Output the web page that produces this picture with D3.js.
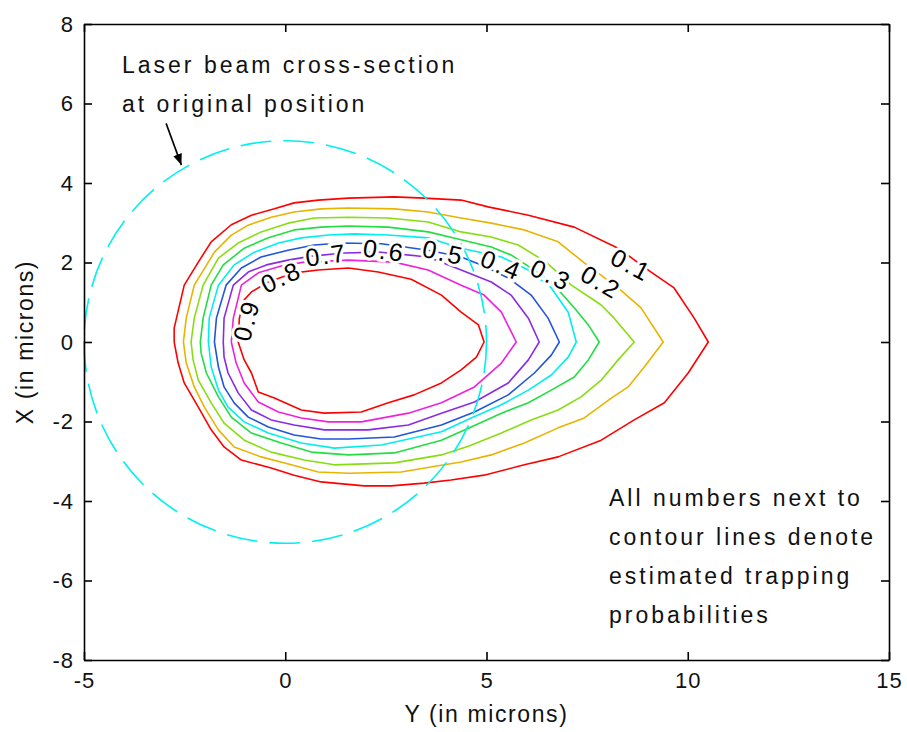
<!DOCTYPE html>
<meta charset="utf-8" />
<style>
  body { margin: 0; background: #fff; }
  svg { font-family: 'Liberation Sans', Arial, sans-serif; }
  .axis path, .axis line { stroke: #000; stroke-width: 1.6px; }
  .tick text { font-size: 22px; fill: #111; letter-spacing: 1px; }
  .note { font-size: 23px; fill: #111; letter-spacing: 3px; }
  .albl { font-size: 23px; fill: #111; letter-spacing: 1.6px; }
  .clab { font-size: 25px; fill: #000; letter-spacing: 2.5px; }
</style>
<svg width="907" height="732"></svg>
<script src="https://d3js.org/d3.v7.min.js"></script>
<script>
  // contour levels and their colours
  var levels = [0.1, 0.2, 0.3, 0.4, 0.5, 0.6, 0.7, 0.8, 0.9];
  var colors = ['#ff0000', '#e8b400', '#88dd11', '#22dd44', '#00eeee',
    '#2255dd', '#8a2be2', '#ee22dd', '#ff0000'];

  // contour outlines, [Y, X] in microns
  var c1 = [[-2.76,0],[-2.76,0.35],[-2.51,1.43],[-2.16,2.01],[-1.84,2.52],[-1.34,2.95],[-0.84,3.19],[-0.27,3.35],[0.22,3.50],[0.82,3.57],[1.57,3.62],[2.71,3.65],[3.45,3.62],[4.37,3.57],[5.04,3.40],[6.04,3.19],[7.18,2.89],[8.27,2.36],[9.09,1.76],[9.66,1.36],[10.16,0.60],[10.51,0],[10.01,-0.78],[9.42,-1.53],[8.67,-1.96],[7.85,-2.47],[6.78,-2.89],[5.94,-3.09],[4.94,-3.35],[4.12,-3.47],[3.45,-3.55],[2.63,-3.62],[1.96,-3.62],[0.89,-3.52],[0.22,-3.35],[-0.35,-3.17],[-1.09,-2.97],[-1.52,-2.64],[-1.84,-2.21],[-2.16,-1.64],[-2.51,-1.03],[-2.66,-0.53]];
  var c2 = [[-2.53,0],[-2.46,0.60],[-2.26,1.43],[-1.76,2.26],[-1.34,2.69],[-0.92,2.94],[-0.35,3.14],[0.22,3.27],[0.89,3.35],[1.57,3.37],[2.71,3.35],[3.55,3.27],[4.37,3.12],[5.12,2.99],[5.94,2.82],[6.78,2.52],[7.43,1.99],[8.27,1.36],[8.84,0.86],[9.39,0],[8.92,-0.63],[8.52,-1.13],[8.10,-1.41],[7.43,-1.91],[6.78,-2.16],[5.94,-2.54],[5.12,-2.84],[4.37,-3.02],[3.95,-3.09],[2.88,-3.27],[1.57,-3.30],[0.82,-3.27],[0.15,-3.09],[-0.60,-2.89],[-1.27,-2.64],[-1.66,-2.21],[-2.01,-1.64],[-2.26,-1.13],[-2.46,-0.53]];
  var c3 = [[-2.34,0],[-2.26,0.60],[-2.04,1.43],[-1.66,2.11],[-1.17,2.49],[-0.60,2.77],[0.07,2.99],[0.72,3.12],[1.57,3.14],[2.56,3.12],[3.55,3.02],[4.37,2.77],[5.12,2.64],[5.79,2.44],[6.48,2.01],[7.11,1.43],[7.85,0.93],[8.17,0.60],[8.67,0],[8.27,-0.45],[7.85,-0.96],[7.35,-1.38],[6.78,-1.71],[6.11,-1.96],[5.37,-2.29],[4.55,-2.62],[3.88,-2.84],[2.71,-3.04],[1.22,-3.09],[0.47,-2.97],[-0.35,-2.77],[-1.02,-2.47],[-1.52,-2.04],[-1.84,-1.53],[-2.16,-0.96],[-2.29,-0.45]];
  var c4 = [[-2.11,0],[-2.04,0.60],[-1.84,1.43],[-1.54,1.94],[-1.02,2.36],[-0.42,2.62],[0.22,2.82],[0.89,2.89],[1.57,2.92],[2.56,2.89],[3.55,2.77],[4.37,2.57],[5.12,2.39],[5.61,2.19],[6.11,1.86],[6.61,1.51],[7.18,0.86],[7.53,0.43],[7.80,0],[7.53,-0.45],[7.18,-0.88],[6.61,-1.21],[6.04,-1.53],[5.37,-1.79],[4.62,-2.14],[3.88,-2.47],[2.71,-2.79],[1.57,-2.84],[0.65,-2.77],[-0.10,-2.54],[-0.84,-2.29],[-1.34,-1.89],[-1.66,-1.38],[-1.96,-0.78],[-2.09,-0.28]];
  var c5 = [[-1.91,0],[-1.89,0.60],[-1.66,1.43],[-1.27,1.94],[-0.77,2.26],[-0.17,2.49],[0.40,2.62],[1.07,2.69],[1.71,2.72],[2.56,2.69],[3.55,2.62],[4.37,2.36],[5.37,2.14],[6.04,1.81],[6.61,1.36],[7.03,0.75],[7.23,0],[7.03,-0.38],[6.61,-0.83],[6.04,-1.21],[5.37,-1.58],[4.62,-1.91],[3.88,-2.26],[2.39,-2.59],[1.22,-2.67],[0.40,-2.54],[-0.42,-2.29],[-1.02,-2.01],[-1.42,-1.64],[-1.66,-1.21],[-1.84,-0.63]];
  var c6 = [[-1.76,0],[-1.71,0.60],[-1.47,1.43],[-1.09,1.86],[-0.60,2.14],[0.07,2.31],[0.72,2.44],[1.39,2.49],[2.39,2.47],[3.55,2.31],[4.37,2.14],[4.87,1.94],[5.54,1.61],[6.11,1.18],[6.53,0.60],[6.81,0],[6.61,-0.33],[6.19,-0.78],[5.54,-1.33],[4.70,-1.76],[3.88,-2.09],[2.71,-2.39],[1.57,-2.44],[0.89,-2.44],[0.22,-2.34],[-0.42,-2.14],[-0.92,-1.89],[-1.27,-1.53],[-1.52,-1.13],[-1.66,-0.63]];
  var c7 = [[-1.54,0],[-1.52,0.60],[-1.29,1.43],[-0.92,1.76],[-0.47,1.94],[0.07,2.06],[0.65,2.16],[1.47,2.24],[2.31,2.26],[3.55,2.14],[4.37,1.81],[5.12,1.51],[5.61,1.18],[6.04,0.60],[6.31,0],[6.04,-0.45],[5.54,-1.03],[4.70,-1.51],[3.88,-1.79],[3.06,-2.09],[2.06,-2.21],[0.97,-2.21],[0.22,-2.09],[-0.35,-1.96],[-0.84,-1.71],[-1.17,-1.28],[-1.42,-0.78],[-1.52,-0.38]];
  var c8 = [[-1.34,0],[-1.29,0.60],[-1.09,1.43],[-0.67,1.74],[-0.10,1.91],[0.47,2.01],[1.57,2.06],[2.71,2.01],[3.55,1.81],[4.37,1.43],[4.94,1.18],[5.37,0.75],[5.74,0],[5.37,-0.53],[4.70,-1.13],[3.88,-1.53],[3.06,-1.79],[1.89,-2.01],[1.07,-2.01],[0.40,-1.91],[-0.17,-1.76],[-0.67,-1.51],[-1.02,-1.03],[-1.22,-0.53]];
  var c9 = [[-1.17,0],[-1.14,0.60],[-1.02,1.06],[-0.84,1.26],[-0.42,1.51],[0.22,1.74],[0.82,1.81],[1.57,1.86],[2.31,1.76],[3.13,1.58],[3.88,1.18],[4.37,0.75],[4.80,0.43],[4.94,0],[4.75,-0.38],[4.37,-0.70],[3.88,-1.03],[3.20,-1.33],[2.56,-1.53],[1.89,-1.76],[0.97,-1.79],[0.40,-1.71],[-0.27,-1.41],[-0.67,-1.26],[-0.84,-0.78],[-1.02,-0.45]];
  var outlines = [c1, c2, c3, c4, c5, c6, c7, c8, c9];

  // where each contour label sits, and its angle
  var labelAt = [[8.60,1.94],[7.85,1.51],[6.61,1.69],[5.37,1.94],[3.93,2.26],[2.46,2.31],[1.02,2.19],[-0.10,1.64],[-0.97,0.55]];
  var labelAngle = [28, 30, 25, 22, 12, 8, -8, -25, -75];

  // laser beam cross-section at the original position
  var beam = { cx: 0, cy: 0, r: 5 };
  var arrowFrom = [-2.96, 5.5], arrowTo = [-2.58, 4.45];

  var xTicks = [-5, 0, 5, 10, 15];
  var yTicks = [-8, -6, -4, -2, 0, 2, 4, 6, 8];

  var svg = d3.select('svg'),
    margin = { top: 24, right: 18, bottom: 72, left: 84 },
    W = +svg.attr('width'), H = +svg.attr('height');

  var x = d3.scaleLinear().domain([-5, 15]).range([margin.left, W - margin.right]);
  var y = d3.scaleLinear().domain([-8, 8]).range([H - margin.bottom, margin.top]);
  var fmt = function (d) { return String(d); };

  var defs = svg.append('defs');
  defs.append('marker')
    .attr('id', 'head').attr('viewBox', '0 0 10 10')
    .attr('refX', 10).attr('refY', 5)
    .attr('markerWidth', 7).attr('markerHeight', 7)
    .attr('markerUnits', 'strokeWidth')
    .attr('orient', 'auto')
    .append('path').attr('d', 'M0,1 L10,5 L0,9 z').attr('fill', '#000');

  var line = d3.line()
    .x(function (d) { return x(d[0]); })
    .y(function (d) { return y(d[1]); });

  svg.append('g')
    .selectAll('path')
    .data(outlines)
    .enter()
    .append('path')
    .attr('d', function (d) { return line(d.concat([d[0]])); })
    .attr('fill', 'none')
    .attr('stroke', function (d, i) { return colors[i]; })
    .attr('stroke-width', 1.6)
    .attr('stroke-linejoin', 'round');

  svg.append('circle')
    .attr('cx', x(beam.cx))
    .attr('cy', y(beam.cy))
    .attr('r', x(beam.r) - x(0))
    .attr('fill', 'none')
    .attr('stroke', '#00f0f0')
    .attr('stroke-width', 1.6)
    .attr('stroke-dasharray', '31,12');

  svg.append('g')
    .selectAll('text')
    .data(levels)
    .enter()
    .append('text')
    .attr('class', 'clab')
    .attr('transform', function (d, i) {
      return 'translate(' + x(labelAt[i][0]) + ',' + y(labelAt[i][1]) + ') rotate(' + labelAngle[i] + ')';
    })
    .attr('text-anchor', 'middle')
    .attr('dy', '0.36em')
    .attr('stroke', '#fff')
    .attr('stroke-width', 6)
    .attr('paint-order', 'stroke')
    .text(function (d) { return d.toFixed(1); });

  // axes box with ticks on all sides, pointing inwards
  var tk = 8;
  svg.append('g').attr('class', 'axis')
    .attr('transform', 'translate(0,' + (H - margin.bottom) + ')')
    .call(d3.axisBottom(x).tickValues(xTicks).tickSize(-tk).tickPadding(12).tickSizeOuter(0).tickFormat(fmt));
  svg.append('g').attr('class', 'axis')
    .attr('transform', 'translate(0,' + margin.top + ')')
    .call(d3.axisTop(x).tickValues(xTicks).tickSize(-tk).tickSizeOuter(0).tickFormat(''));
  svg.append('g').attr('class', 'axis')
    .attr('transform', 'translate(' + margin.left + ',0)')
    .call(d3.axisLeft(y).tickValues(yTicks).tickSize(-tk).tickPadding(10).tickSizeOuter(0).tickFormat(fmt));
  svg.append('g').attr('class', 'axis')
    .attr('transform', 'translate(' + (W - margin.right) + ',0)')
    .call(d3.axisRight(y).tickValues(yTicks).tickSize(-tk).tickSizeOuter(0).tickFormat(''));
  svg.selectAll('.axis .domain').attr('stroke-width', 2);

  svg.append('line')
    .attr('x1', x(arrowFrom[0])).attr('y1', y(arrowFrom[1]))
    .attr('x2', x(arrowTo[0])).attr('y2', y(arrowTo[1]))
    .attr('stroke', '#000').attr('stroke-width', 1.6)
    .attr('marker-end', 'url(#head)');

  var note1 = ['Laser beam cross-section', 'at original position'];
  var note2 = ['All numbers next to', 'contour lines denote', 'estimated trapping', 'probabilities'];

  svg.append('text').attr('class', 'note')
    .selectAll('tspan').data(note1).enter().append('tspan')
    .attr('x', 122).attr('y', function (d, i) { return 73 + i * 38.5; })
    .text(function (d) { return d; });

  svg.append('text').attr('class', 'note')
    .selectAll('tspan').data(note2).enter().append('tspan')
    .attr('x', 609).attr('y', function (d, i) { return 506 + i * 39; })
    .text(function (d) { return d; });

  svg.append('text').attr('class', 'albl')
    .attr('x', (margin.left + W - margin.right) / 2).attr('y', 722)
    .attr('text-anchor', 'middle')
    .text('Y (in microns)');

  svg.append('text').attr('class', 'albl')
    .attr('transform', 'translate(33,' + y(0) + ') rotate(-90)')
    .attr('text-anchor', 'middle')
    .text('X (in microns)');
</script>
